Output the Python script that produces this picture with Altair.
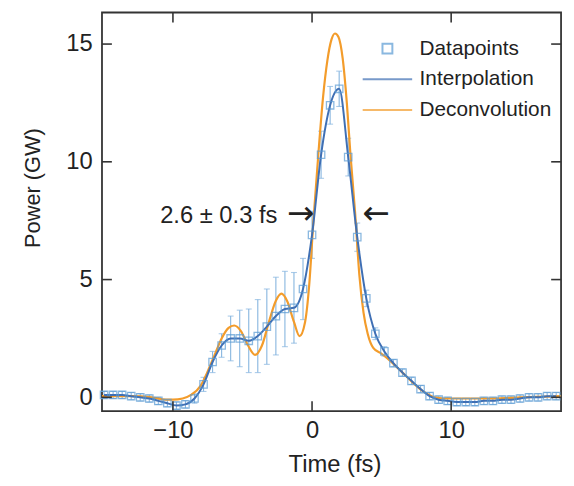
import altair as alt
import pandas as pd

FONT = "Liberation Sans"

# ---- data ----
t_pts = [-14.95, -14.3, -13.65, -13.0, -12.35, -11.7, -11.05, -10.4, -9.75, -9.1,
         -8.45, -7.8, -7.15, -6.5, -5.85, -5.2, -4.55, -3.9, -3.25, -2.6,
         -1.95, -1.3, -0.65, 0.0, 0.65, 1.3, 1.95, 2.6, 3.25, 3.9,
         4.55, 5.2, 5.85, 6.5, 7.15, 7.8, 8.45, 9.1, 9.75, 10.4,
         11.05, 11.7, 12.35, 13.0, 13.65, 14.3, 14.95, 15.6, 16.25, 16.9, 17.55]
p_pts = [0.1, 0.1, 0.1, 0.05, 0.0, -0.05, -0.15, -0.25, -0.35, -0.3,
         -0.05, 0.55, 1.5, 2.2, 2.5, 2.5, 2.4, 2.6, 3.0, 3.45,
         3.75, 3.8, 4.6, 6.9, 10.3, 12.4, 13.1, 10.2, 6.8, 4.2,
         2.7, 1.95, 1.45, 1.05, 0.7, 0.35, 0.05, -0.1, -0.15, -0.2,
         -0.2, -0.2, -0.15, -0.15, -0.1, -0.1, -0.05, 0.0, 0.0, 0.05, 0.05]
err_pts = [0.15, 0.15, 0.15, 0.15, 0.15, 0.15, 0.15, 0.15, 0.15, 0.15,
           0.2, 0.3, 0.45, 0.5, 0.95, 1.2, 1.35, 1.55, 1.6, 1.65,
           1.6, 1.5, 1.3, 1.0, 1.0, 0.8, 0.75, 0.8, 0.6, 0.35,
           0.25, 0.2, 0.15, 0.15, 0.15, 0.15, 0.15, 0.15, 0.15, 0.15,
           0.15, 0.15, 0.15, 0.15, 0.15, 0.15, 0.15, 0.15, 0.15, 0.15, 0.15]

t_dec = [-15.1, -13.0, -11.5, -10.5, -10.0, -9.3, -8.7, -8.0, -7.5, -7.0,
         -6.5, -6.0, -5.6, -5.1, -4.6, -4.1, -3.6, -3.1, -2.6, -2.2,
         -1.8, -1.3, -0.9, -0.5, -0.2, 0.1, 0.45, 0.8, 1.1, 1.4,
         1.65, 1.9, 2.2, 2.5, 2.75, 3.1, 3.4, 3.7, 4.0, 4.4,
         5.0, 5.8, 6.5, 7.2, 8.0, 8.8, 9.5, 11.0, 13.0, 15.0, 17.9]
p_dec = [0.05, 0.05, 0.0, -0.1, -0.1, -0.05, 0.1, 0.5, 1.1, 1.8,
         2.5, 2.95, 3.05, 2.8, 2.2, 1.8, 2.2, 3.2, 4.1, 4.4,
         4.1, 3.2, 2.6, 3.2, 4.8, 7.5, 10.3, 12.8, 14.3, 15.2,
         15.45, 15.3, 14.4, 12.5, 10.4, 7.8, 5.2, 3.6, 2.7, 2.1,
         1.85, 1.45, 1.05, 0.65, 0.25, 0.0, -0.05, -0.05, -0.05, 0.0, 0.05]

series_names = ["Datapoints", "Interpolation", "Deconvolution"]
series_colors = ["#5a9bd4", "#3f6fb4", "#f39c2b"]
errbar_color = "#86b5df"

x_ticks = [-10, 0, 10]
y_ticks = [0, 5, 10, 15]
x_domain = [-15.1, 17.9]
y_domain = [-0.59, 16.34]

ann_label = ["2.6 ± 0.3 fs"]
ann_t = [-2.49]
ann_p = [7.69]
arrow_label = ["→", "←"]
arrow_t = [-0.82, 4.6]
arrow_p = [7.77, 7.77]

W, H = 464, 403

# ---- tables ----
pts = pd.DataFrame({"t": t_pts, "p": p_pts, "err": err_pts})
pts["lo"] = pts["p"] - pts["err"]
pts["hi"] = pts["p"] + pts["err"]
pts["series"] = "Datapoints"
dec = pd.DataFrame({"t": t_dec, "p": p_dec})
ann = pd.DataFrame({"t": ann_t, "p": ann_p, "label": ann_label})
arr = pd.DataFrame({"t": arrow_t, "p": arrow_p, "label": arrow_label})
xt = pd.DataFrame({"v": x_ticks})
yt = pd.DataFrame({"v": y_ticks})

xs = alt.Scale(domain=x_domain, nice=False, zero=False)
ys = alt.Scale(domain=y_domain, nice=False, zero=False)

x_axis = alt.Axis(values=x_ticks, ticks=False, domain=False, grid=False,
                  labelFontSize=24, labelPadding=8, labelColor="#222",
                  titleFontSize=24, titleFontWeight="normal", titleColor="#222",
                  titleX=235, titleY=54, titleBaseline="middle", titleAlign="center")
y_axis = alt.Axis(values=y_ticks, ticks=False, domain=False, grid=False,
                  labelFontSize=24, labelPadding=10, labelColor="#222",
                  titleFontSize=22, titleFontWeight="normal", titleColor="#222",
                  titleAngle=270, titleX=-70, titleY=177,
                  titleBaseline="middle", titleAlign="center")


def XE(field):
    return alt.X(field, scale=xs, axis=x_axis, title="Time (fs)")


def YE(field):
    return alt.Y(field, scale=ys, axis=y_axis, title="Power (GW)")


base = alt.Chart(pts)

errbars = base.mark_rule(color=errbar_color, strokeWidth=1.1).encode(
    x=XE("t:Q"), y=YE("lo:Q"), y2="hi:Q")
cap_lo = base.mark_tick(color=errbar_color, orient="horizontal", size=6, thickness=1.1).encode(
    x=XE("t:Q"), y=YE("lo:Q"))
cap_hi = base.mark_tick(color=errbar_color, orient="horizontal", size=6, thickness=1.1).encode(
    x=XE("t:Q"), y=YE("hi:Q"))

deconv = alt.Chart(dec).mark_line(color=series_colors[2], strokeWidth=2.2,
                                  interpolate="monotone").encode(x=XE("t:Q"), y=YE("p:Q"))
interp = base.mark_line(color=series_colors[1], strokeWidth=2.0,
                        interpolate="monotone").encode(x=XE("t:Q"), y=YE("p:Q"))

shape_paths = ["M-1,-1H1V1H-1Z", "M-5,0H5", "M-5,0H5"]
points = base.mark_point(filled=False, size=56, strokeWidth=1.3).encode(
    x=XE("t:Q"), y=YE("p:Q"),
    color=alt.Color("series:N", scale=alt.Scale(domain=series_names, range=series_colors),
                    title=None),
    shape=alt.Shape("series:N", scale=alt.Scale(domain=series_names, range=shape_paths),
                    title=None),
)

ann_text = alt.Chart(ann).mark_text(align="right", baseline="middle", fontSize=24,
                                    font=FONT, color="#222").encode(
    x=XE("t:Q"), y=YE("p:Q"), text="label:N")
arrows = alt.Chart(arr).mark_text(align="center", baseline="middle", fontSize=33,
                                  font="DejaVu Sans", color="#222").encode(
    x=XE("t:Q"), y=YE("p:Q"), text="label:N")

tick_col = "#333"
tl = 10
left_t = alt.Chart(yt).mark_rule(color=tick_col, strokeWidth=1.6).encode(
    y=YE("v:Q"), x=alt.value(0), x2=alt.value(tl))
right_t = alt.Chart(yt).mark_rule(color=tick_col, strokeWidth=1.6).encode(
    y=YE("v:Q"), x=alt.value(W - tl), x2=alt.value(W))
bot_t = alt.Chart(xt).mark_rule(color=tick_col, strokeWidth=1.6).encode(
    x=XE("v:Q"), y=alt.value(H - tl), y2=alt.value(H))
top_t = alt.Chart(xt).mark_rule(color=tick_col, strokeWidth=1.6).encode(
    x=XE("v:Q"), y=alt.value(0), y2=alt.value(tl))

chart = alt.layer(
    errbars, cap_lo, cap_hi, deconv, interp, points, ann_text, arrows,
    left_t, right_t, bot_t, top_t,
).properties(
    width=W, height=H,
    autosize=alt.AutoSizeParams(type="none"),
    padding={"left": 95, "top": 2, "right": 5, "bottom": 70},
    background="white",
).configure_view(
    stroke="#333", strokeWidth=1.8,
).configure_axis(
    labelFont=FONT, titleFont=FONT,
).configure_legend(
    orient="none", legendX=278, legendY=26, padding=0,
    labelFont=FONT, labelFontSize=21, labelColor="#222",
    symbolSize=100, symbolStrokeWidth=2, labelOffset=22, rowPadding=9,
)

chart.save("out.html", embed_options={"renderer": "svg", "actions": False})
